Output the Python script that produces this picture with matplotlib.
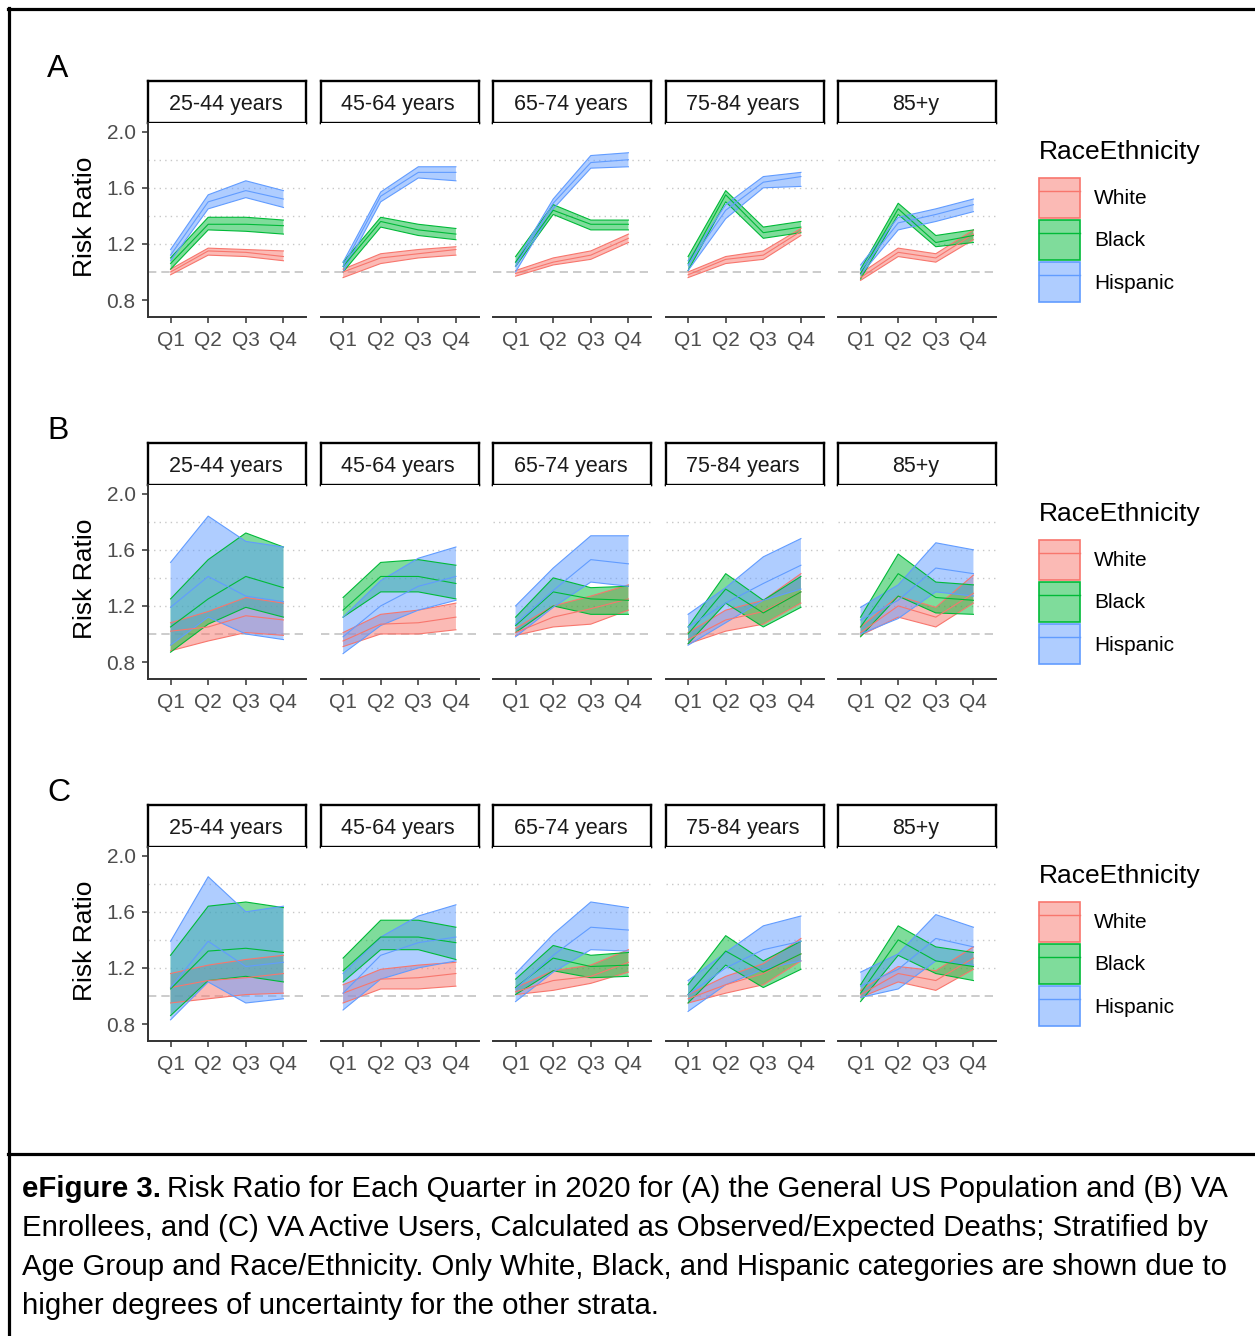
import matplotlib
matplotlib.use('Agg')
import matplotlib.pyplot as plt
from matplotlib.patches import Patch
from matplotlib.lines import Line2D

plt.rcParams['font.family'] = ['Liberation Sans', 'DejaVu Sans']

# categories
quarters = ['Q1', 'Q2', 'Q3', 'Q4']
age_groups = ['25-44 years', '45-64 years', '65-74 years', '75-84 years', '85+y']
races = ['White', 'Black', 'Hispanic']
race_colors = ['#F8766D', '#00BA38', '#619CFF']
panel_labels = ['A', 'B', 'C']
y_ticks = [0.8, 1.2, 1.6, 2.0]
grid_levels = [1.2, 1.4, 1.6, 1.8]

# (A) General US population -- one row per age group, one value per quarter
A_white_rr = [[1.00, 1.15, 1.14, 1.11], [1.00, 1.10, 1.13, 1.16], [0.99, 1.07, 1.12, 1.24], [0.98, 1.09, 1.12, 1.29], [0.96, 1.14, 1.10, 1.27]]
A_white_lo = [[0.98, 1.12, 1.11, 1.08], [0.96, 1.06, 1.10, 1.12], [0.97, 1.05, 1.09, 1.21], [0.96, 1.06, 1.09, 1.26], [0.94, 1.11, 1.07, 1.23]]
A_white_hi = [[1.02, 1.17, 1.16, 1.15], [1.02, 1.13, 1.16, 1.18], [1.01, 1.10, 1.15, 1.27], [1.00, 1.11, 1.15, 1.31], [0.99, 1.17, 1.13, 1.30]]
A_black_rr = [[1.06, 1.34, 1.34, 1.33], [1.04, 1.36, 1.30, 1.27], [1.07, 1.44, 1.34, 1.34], [1.06, 1.55, 1.28, 1.32], [0.99, 1.45, 1.21, 1.26]]
A_black_lo = [[1.02, 1.30, 1.29, 1.27], [1.00, 1.32, 1.26, 1.23], [1.04, 1.41, 1.30, 1.30], [1.01, 1.50, 1.24, 1.28], [0.95, 1.41, 1.18, 1.21]]
A_black_hi = [[1.10, 1.39, 1.39, 1.37], [1.07, 1.39, 1.34, 1.31], [1.11, 1.48, 1.37, 1.37], [1.11, 1.58, 1.32, 1.36], [1.02, 1.49, 1.26, 1.30]]
A_hisp_rr = [[1.12, 1.50, 1.58, 1.52], [1.04, 1.54, 1.71, 1.71], [1.04, 1.49, 1.78, 1.80], [1.05, 1.44, 1.64, 1.68], [1.01, 1.35, 1.41, 1.48]]
A_hisp_lo = [[1.08, 1.45, 1.53, 1.46], [1.00, 1.50, 1.67, 1.65], [1.00, 1.45, 1.74, 1.75], [1.01, 1.38, 1.60, 1.61], [0.98, 1.30, 1.36, 1.43]]
A_hisp_hi = [[1.16, 1.55, 1.65, 1.58], [1.07, 1.57, 1.75, 1.75], [1.07, 1.52, 1.83, 1.85], [1.08, 1.48, 1.68, 1.71], [1.05, 1.39, 1.45, 1.52]]

# (B) VA enrollees
B_white_rr = [[1.02, 1.05, 1.13, 1.10], [0.95, 1.07, 1.08, 1.12], [1.01, 1.12, 1.18, 1.25], [0.96, 1.10, 1.16, 1.30], [1.01, 1.20, 1.12, 1.29]]
B_white_lo = [[0.88, 0.95, 1.01, 0.99], [0.91, 1.00, 1.00, 1.03], [0.99, 1.05, 1.07, 1.17], [0.93, 1.02, 1.07, 1.22], [0.99, 1.12, 1.05, 1.22]]
B_white_hi = [[1.08, 1.16, 1.26, 1.22], [1.01, 1.14, 1.17, 1.22], [1.04, 1.20, 1.27, 1.35], [1.01, 1.17, 1.24, 1.43], [1.05, 1.27, 1.19, 1.42]]
B_black_rr = [[1.05, 1.25, 1.41, 1.33], [1.17, 1.41, 1.41, 1.36], [1.06, 1.30, 1.25, 1.24], [1.00, 1.32, 1.15, 1.30], [1.05, 1.43, 1.26, 1.24]]
B_black_lo = [[0.87, 1.07, 1.19, 1.12], [1.12, 1.30, 1.30, 1.25], [1.01, 1.20, 1.14, 1.14], [0.93, 1.22, 1.05, 1.19], [0.98, 1.27, 1.15, 1.14]]
B_black_hi = [[1.25, 1.53, 1.72, 1.62], [1.26, 1.51, 1.53, 1.49], [1.12, 1.40, 1.33, 1.34], [1.05, 1.43, 1.24, 1.41], [1.12, 1.57, 1.37, 1.35]]
B_hisp_rr = [[1.19, 1.41, 1.27, 1.23], [0.98, 1.20, 1.34, 1.41], [1.07, 1.31, 1.53, 1.50], [1.05, 1.22, 1.36, 1.49], [1.10, 1.24, 1.47, 1.43]]
B_hisp_lo = [[0.92, 1.12, 1.00, 0.96], [0.86, 1.06, 1.17, 1.24], [0.98, 1.19, 1.37, 1.34], [0.92, 1.08, 1.24, 1.32], [1.00, 1.11, 1.30, 1.27]]
B_hisp_hi = [[1.51, 1.84, 1.66, 1.62], [1.12, 1.38, 1.54, 1.62], [1.20, 1.47, 1.70, 1.70], [1.14, 1.33, 1.55, 1.68], [1.19, 1.35, 1.65, 1.60]]

# (C) VA active users
C_white_rr = [[1.06, 1.11, 1.13, 1.16], [1.02, 1.12, 1.13, 1.16], [1.03, 1.11, 1.14, 1.24], [0.98, 1.08, 1.16, 1.30], [1.01, 1.16, 1.11, 1.27]]
C_white_lo = [[0.95, 0.98, 1.01, 1.02], [0.95, 1.05, 1.05, 1.07], [1.01, 1.04, 1.09, 1.17], [0.95, 1.02, 1.08, 1.25], [0.99, 1.10, 1.04, 1.19]]
C_white_hi = [[1.16, 1.22, 1.26, 1.29], [1.08, 1.19, 1.22, 1.24], [1.06, 1.18, 1.22, 1.33], [1.01, 1.14, 1.23, 1.41], [1.04, 1.21, 1.18, 1.35]]
C_black_rr = [[1.05, 1.32, 1.34, 1.31], [1.18, 1.42, 1.42, 1.38], [1.06, 1.27, 1.21, 1.22], [1.01, 1.32, 1.17, 1.30], [1.02, 1.40, 1.25, 1.21]]
C_black_lo = [[0.86, 1.11, 1.14, 1.10], [1.10, 1.33, 1.33, 1.26], [1.01, 1.18, 1.13, 1.14], [0.95, 1.22, 1.06, 1.19], [0.96, 1.29, 1.16, 1.11]]
C_black_hi = [[1.29, 1.64, 1.67, 1.63], [1.27, 1.54, 1.54, 1.49], [1.12, 1.36, 1.29, 1.31], [1.08, 1.43, 1.25, 1.39], [1.08, 1.50, 1.35, 1.31]]
C_hisp_rr = [[1.06, 1.39, 1.21, 1.24], [1.02, 1.29, 1.38, 1.42], [1.05, 1.29, 1.49, 1.47], [1.01, 1.20, 1.33, 1.39], [1.07, 1.19, 1.41, 1.35]]
C_hisp_lo = [[0.83, 1.10, 0.95, 0.98], [0.90, 1.12, 1.20, 1.25], [0.96, 1.17, 1.33, 1.32], [0.89, 1.08, 1.19, 1.25], [0.99, 1.05, 1.25, 1.22]]
C_hisp_hi = [[1.39, 1.85, 1.60, 1.64], [1.16, 1.42, 1.57, 1.65], [1.16, 1.44, 1.67, 1.63], [1.11, 1.31, 1.50, 1.57], [1.17, 1.30, 1.58, 1.49]]

caption_lines = [
    'Risk Ratio for Each Quarter in 2020 for (A) the General US Population and (B) VA',
    'Enrollees, and (C) VA Active Users, Calculated as Observed/Expected Deaths; Stratified by',
    'Age Group and Race/Ethnicity. Only White, Black, and Hispanic categories are shown due to',
    'higher degrees of uncertainty for the other strata.',
]

panels = [
    [(A_white_rr, A_white_lo, A_white_hi), (A_black_rr, A_black_lo, A_black_hi), (A_hisp_rr, A_hisp_lo, A_hisp_hi)],
    [(B_white_rr, B_white_lo, B_white_hi), (B_black_rr, B_black_lo, B_black_hi), (B_hisp_rr, B_hisp_lo, B_hisp_hi)],
    [(C_white_rr, C_white_lo, C_white_hi), (C_black_rr, C_black_lo, C_black_hi), (C_hisp_rr, C_hisp_lo, C_hisp_hi)],
]

W, H = 1255, 1336
fig = plt.figure(figsize=(W / 100, H / 100), dpi=100)


def fbox(left, top, width, height):
    # pixel box (from top-left) -> figure fraction
    return [left / W, 1 - (top + height) / H, width / W, height / H]


facet_left = [148, 320.5, 493, 665.5, 838]
facet_w = 158
strip_top = [81, 443, 805]
strip_h = 42
plot_h = 194
xpos = list(range(1, len(quarters) + 1))

for p, panel in enumerate(panels):
    top = strip_top[p]
    for f, age in enumerate(age_groups):
        # strip with facet title
        sax = fig.add_axes(fbox(facet_left[f], top, facet_w, strip_h))
        sax.set_xticks([])
        sax.set_yticks([])
        for s in sax.spines.values():
            s.set_linewidth(1.7)
            s.set_color('black')
        sax.text(0.49, 0.45, age, ha='center', va='center', fontsize=15.5, color='#1A1A1A',
                 transform=sax.transAxes)

        ax = fig.add_axes(fbox(facet_left[f], top + strip_h, facet_w, plot_h))
        ax.set_facecolor('white')
        for g in grid_levels:
            ax.axhline(g, color='#C8C8C8', lw=1.0, ls=(0, (1, 3)), zorder=0)
        ax.axhline(1.0, color='#C4C4C4', lw=1.2, ls=(0, (5, 3)), zorder=0)

        for r, (rr, lo, hi) in enumerate(panel):
            c = race_colors[r]
            ax.fill_between(xpos, lo[f], hi[f], facecolor=c, alpha=0.5, lw=0, zorder=2)
            ax.plot(xpos, lo[f], color=c, lw=0.8, zorder=3)
            ax.plot(xpos, hi[f], color=c, lw=0.8, zorder=3)
        for r, (rr, lo, hi) in enumerate(panel):
            ax.plot(xpos, rr[f], color=race_colors[r], lw=0.8, zorder=4)

        ax.set_xlim(0.4, 4.6)
        ax.set_ylim(0.679, 2.062)
        ax.set_xticks(xpos)
        ax.set_xticklabels(quarters)
        ax.spines['top'].set_visible(False)
        ax.spines['right'].set_visible(False)
        ax.spines['bottom'].set_color('#333333')
        ax.spines['bottom'].set_linewidth(1.4)
        ax.tick_params(axis='x', length=4, width=1.1, color='#333333', labelsize=15,
                       labelcolor='#4D4D4D', pad=6)
        if f == 0:
            ax.spines['left'].set_color('#333333')
            ax.spines['left'].set_linewidth(1.4)
            ax.set_yticks(y_ticks)
            ax.set_yticklabels([f'{v:.1f}' for v in y_ticks])
            ax.tick_params(axis='y', length=4, width=1.1, color='#333333', labelsize=15,
                           labelcolor='#4D4D4D', pad=5)
        else:
            ax.spines['left'].set_visible(False)
            ax.set_yticks([])

    # y axis title and panel letter
    fig.text(85 / W, 1 - (top + strip_h + plot_h / 2 - 3) / H, 'Risk Ratio', rotation=90,
             ha='center', va='center', fontsize=19, color='black')
    fig.text(47 / W, 1 - (top - 12) / H, panel_labels[p], ha='left', va='center',
             fontsize=23, color='black')

    # legend
    fig.text(1039 / W, 1 - (top + 71) / H, 'RaceEthnicity', ha='left', va='center',
             fontsize=19, color='black')
    handles = []
    for c in race_colors:
        handles.append((Patch(facecolor=c, alpha=0.5, edgecolor='none'),
                        Patch(facecolor='none', edgecolor=c, lw=1.2),
                        Line2D([0], [0], color=c, lw=1.0)))
    fig.legend(handles, races, loc='upper left',
               bbox_to_anchor=(1039 / W, 1 - (top + 97) / H), frameon=False,
               fontsize=15, handlelength=1.95, handleheight=2.58,
               handletextpad=0.7, labelspacing=0.1, borderpad=0, borderaxespad=0)

# figure frame and caption
fig.add_artist(Line2D([8 / W, 1], [1 - 9 / H, 1 - 9 / H], color='black', lw=2.3,
                      transform=fig.transFigure))
fig.add_artist(Line2D([9 / W, 9 / W], [0, 1 - 8 / H], color='black', lw=2.3,
                      transform=fig.transFigure))
fig.add_artist(Line2D([8 / W, 1], [1 - 1154 / H, 1 - 1154 / H], color='black', lw=2.3,
                      transform=fig.transFigure))

cap_size = 21.2
baselines = [1197, 1236, 1275, 1314]
bold = fig.text(22 / W, 1 - baselines[0] / H, 'eFigure 3.', fontsize=cap_size,
                fontweight='bold', ha='left', va='baseline', color='black')
renderer = fig.canvas.get_renderer()
bb = bold.get_window_extent(renderer)
fig.text((bb.x1 + 6) / W, 1 - baselines[0] / H, caption_lines[0], fontsize=cap_size,
         ha='left', va='baseline', color='black')
for i in range(1, 4):
    fig.text(22 / W, 1 - baselines[i] / H, caption_lines[i], fontsize=cap_size,
             ha='left', va='baseline', color='black')

fig.savefig('out.png', dpi=100)
